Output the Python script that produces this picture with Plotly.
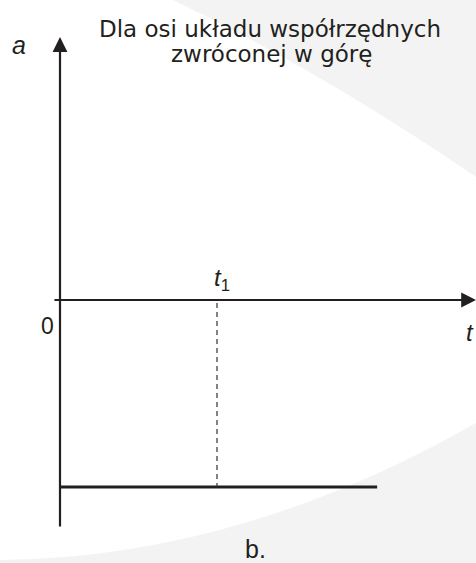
import plotly.graph_objects as go

# ---- data (in chart units) ----
t1 = 1.0                 # moment t1
a_const = -1.0           # constant (negative) acceleration
t_end = 2.02             # end of the plotted acceleration segment
t_axis = [-0.045, 2.65]  # horizontal axis extent (t)
a_axis = [-1.219, 1.406] # vertical axis extent (a)
x_range = [-0.3822, 2.6497]
y_range = [-1.4064, 1.6043]
title_lines = ["Dla osi układu współrzędnych", "zwróconej w górę"]

W, H = 476, 563
INK = "#231f20"

def px(x, y):
    return f"{x / W:.4f},{1 - y / H:.4f}"

bg_path = ("M " + px(0, 0) + " L " + px(173, 0) + " Q " + px(321.5, 71.5) + " " + px(476, 177)
           + " L " + px(476, 423) + " Q " + px(238, 558.5) + " " + px(0, 560) + " Z")

fig = go.Figure()

# acceleration segment
fig.add_trace(go.Scatter(x=[0, t_end], y=[a_const, a_const], mode="lines",
                         line=dict(color=INK, width=3), hoverinfo="skip", showlegend=False))
# dashed line at t1
fig.add_trace(go.Scatter(x=[t1, t1], y=[-0.016, a_const], mode="lines",
                         line=dict(color="#333333", width=1.2, dash="5px,4px"),
                         hoverinfo="skip", showlegend=False))

annotations = [
    # vertical axis with arrow
    dict(x=0, y=a_axis[1], ax=0, ay=a_axis[0], xref="x", yref="y", axref="x", ayref="y",
         showarrow=True, arrowhead=2, arrowsize=1.35, arrowwidth=2.2, arrowcolor=INK, text=""),
    # horizontal axis with arrow
    dict(x=t_axis[1], y=0, ax=t_axis[0], ay=0, xref="x", yref="y", axref="x", ayref="y",
         showarrow=True, arrowhead=2, arrowsize=1.35, arrowwidth=2.2, arrowcolor=INK, text=""),
]

def label(text, x, y, size=20, family="DejaVu Sans", xanchor="center"):
    annotations.append(dict(text=text, x=x / W, y=1 - y / H, xref="paper", yref="paper",
                            showarrow=False, xanchor=xanchor, yanchor="middle",
                            font=dict(family=family, size=size, color=INK)))

label(title_lines[0], 270, 29, size=23)
label(title_lines[1], 271, 54, size=23)
label("<i>a</i>", 19, 45, size=25, family="Liberation Sans")
label("0", 47, 326, size=23, family="Liberation Sans")
label("<i>t</i>", W, 332, size=24, family="Liberation Sans", xanchor="right")
label("<i>t</i><sub>1</sub>", 222, 279, size=24, family="Liberation Sans")
label("b.", 255, 549, size=25, family="Liberation Sans")

fig.update_layout(
    width=W, height=H,
    margin=dict(l=0, r=0, t=0, b=0),
    paper_bgcolor="#f3f3f3", plot_bgcolor="#f3f3f3",
    xaxis=dict(range=x_range, visible=False, fixedrange=True),
    yaxis=dict(range=y_range, visible=False, fixedrange=True),
    shapes=[dict(type="path", path=bg_path, xref="paper", yref="paper",
                 fillcolor="white", line=dict(width=0), layer="below")],
    annotations=annotations,
    showlegend=False,
)

fig.write_html("out.html", config={"displayModeBar": False},
               post_script="document.body.style.margin='0';document.body.style.overflow='hidden';")
